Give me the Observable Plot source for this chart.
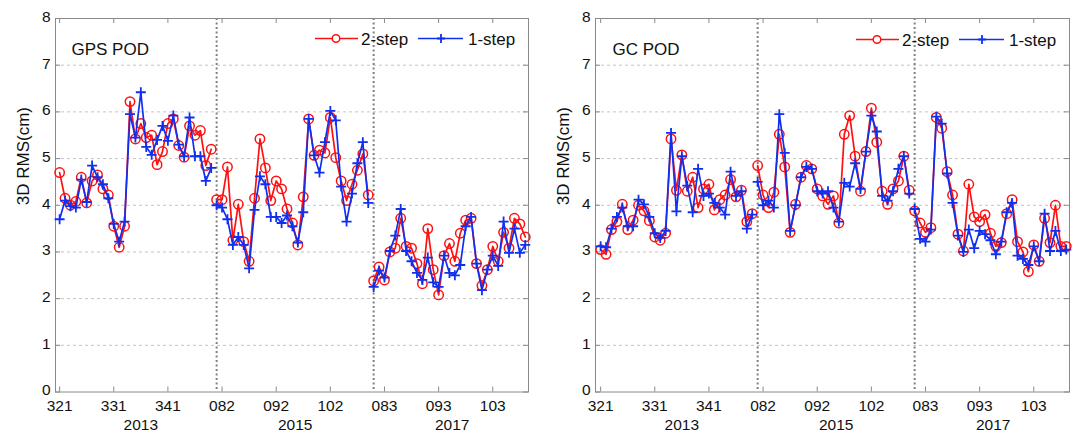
<!DOCTYPE html>
<html><head><meta charset="utf-8">
<script src="https://cdn.jsdelivr.net/npm/d3@7"></script>
<script src="https://cdn.jsdelivr.net/npm/@observablehq/plot@0.6"></script>
<style>
body{margin:0;background:#fff;}
#wrap{position:relative;width:1077px;height:435px;overflow:hidden;background:#fff;}
#wrap > div{position:absolute;top:0;}
</style></head><body>
<div id="wrap"><div id="p1" style="left:0"></div><div id="p2" style="left:538px"></div></div>
<script>
// ---- data ----
const tickIndex = [0, 10, 20, 30, 40, 50, 60, 70, 80];
const tickLabels = ["321", "331", "341", "082", "092", "102", "083", "093", "103"];
const years = ["2013", "2015", "2017"];
const yearCenters = [15, 43.5, 72.5];
const separators = [29, 58];
const segmentStarts = [0, 29, 58];
const yTicks = [0, 1, 2, 3, 4, 5, 6, 7, 8];
const gridValues = [1, 2, 3, 4, 5, 6, 7];

const gpsTwoStep = [4.7,4.15,4.0,4.08,4.6,4.05,4.52,4.65,4.35,4.22,3.55,3.1,3.55,6.22,5.42,5.75,5.45,5.5,4.87,5.15,5.75,5.85,5.28,5.03,5.7,5.5,5.6,4.85,5.2,
  4.12,4.12,4.82,3.25,4.02,3.22,2.8,4.15,5.42,4.8,4.1,4.52,4.35,3.92,3.62,3.15,4.18,5.85,5.07,5.18,5.12,5.88,5.02,4.52,4.1,4.45,4.75,5.1,4.22,
  2.38,2.68,2.4,3.0,3.08,3.72,3.12,3.08,2.75,2.32,3.5,2.62,2.08,2.92,3.18,2.8,3.4,3.68,3.72,2.75,2.28,2.62,3.12,2.8,3.42,3.08,3.72,3.6,3.32];
const gpsOneStep = [3.7,4.1,3.98,3.95,4.55,4.07,4.85,4.6,4.45,4.15,3.6,3.22,3.65,5.95,5.45,6.42,5.25,5.08,5.4,5.7,5.38,5.92,5.3,5.05,5.88,5.05,5.05,4.52,4.8,
  4.0,3.95,3.7,3.15,3.32,3.15,2.65,3.9,4.62,4.45,3.75,3.75,3.62,3.78,3.55,3.2,3.85,5.85,5.07,4.7,5.35,6.02,5.82,4.4,3.65,4.25,4.9,5.35,4.05,
  2.25,2.6,2.45,3.02,3.35,3.92,3.02,2.8,2.55,2.4,2.88,2.35,2.25,2.92,2.55,2.5,2.72,3.55,3.75,2.75,2.18,2.62,2.92,2.7,3.65,2.98,3.5,2.98,3.15];
const gcTwoStep = [3.05,2.95,3.48,3.65,4.02,3.48,3.68,4.0,3.88,3.67,3.32,3.25,3.4,5.42,4.32,5.08,4.3,4.6,3.95,4.35,4.45,3.9,4.12,4.22,4.55,4.18,4.32,3.65,3.82,
  4.85,4.22,3.95,4.28,5.52,4.82,3.42,4.02,4.6,4.85,4.78,4.35,4.2,4.02,4.2,3.62,5.52,5.92,5.05,4.3,5.15,6.08,5.35,4.3,4.02,4.35,4.52,5.05,4.32,
  3.88,3.62,3.42,3.52,5.88,5.65,4.72,4.22,3.38,3.02,4.45,3.75,3.65,3.8,3.4,3.12,3.2,3.82,4.12,3.22,3.0,2.58,3.15,2.8,3.72,3.2,4.0,3.12,3.12];
const gcOneStep = [3.12,3.1,3.5,3.75,3.95,3.55,3.55,4.12,4.02,3.75,3.4,3.3,3.45,5.55,3.87,5.05,4.42,3.85,4.78,4.2,4.25,4.05,3.95,3.8,4.72,4.2,4.3,3.5,3.8,
  4.5,4.0,4.1,3.95,5.95,5.12,3.45,4.0,4.6,4.82,4.78,4.3,4.25,4.3,3.95,3.65,4.48,4.4,4.9,4.35,5.15,5.92,5.58,4.2,4.1,4.3,4.78,5.05,4.25,
  3.92,3.28,3.22,3.48,5.9,5.75,4.68,4.05,3.35,3.0,3.48,3.08,3.45,3.38,3.25,2.95,3.22,3.85,4.05,2.92,2.85,2.72,3.12,2.8,3.82,3.02,3.45,3.02,3.05];

// ---- drawing ----
const RED = "#ff1010", BLUE = "#1030f0", AXIS = "#8a8a8a";
const FONT = "'Liberation Sans', Arial, Helvetica, sans-serif";
const plusSym = {draw(ctx, size) { const r = Math.sqrt(size / Math.PI); ctx.moveTo(-r, 0); ctx.lineTo(r, 0); ctx.moveTo(0, -r); ctx.lineTo(0, r); }};

function rows(series) {
  return series.map((v, i) => ({i, v, seg: segmentStarts.filter(s => i >= s).length}));
}

function panel({title, two, one, width, marginLeft, marginRight, xDomain, titleDx, legendX, legendY}) {
  const marginTop = 18, marginBottom = 43.5, height = 435;
  const innerH = height - marginTop - marginBottom;
  const innerW = width - marginLeft - marginRight;
  const svg = Plot.plot({
    width, height, marginLeft, marginRight, marginTop, marginBottom,
    style: {fontFamily: FONT, fontSize: "16px", color: "#111", background: "white", overflow: "visible"},
    x: {domain: xDomain, axis: null},
    y: {domain: [0, 8], axis: null},
    marks: [
      Plot.ruleY(gridValues, {stroke: "#c4c4c4", strokeDasharray: "3,3"}),
      Plot.ruleX(separators, {stroke: "#808080", strokeWidth: 2, strokeDasharray: "2,2.5"}),
      Plot.tickX(tickIndex, {x: d => d, stroke: AXIS, insetTop: innerH - 5}),
      Plot.tickX(tickIndex, {x: d => d, stroke: AXIS, insetBottom: innerH - 5}),
      Plot.tickY(yTicks, {y: d => d, stroke: AXIS, insetRight: innerW - 5}),
      Plot.tickY(yTicks, {y: d => d, stroke: AXIS, insetLeft: innerW - 5}),
      Plot.frame({stroke: AXIS}),
      Plot.axisX({ticks: tickIndex, tickSize: 0, tickPadding: 7.5, label: null, tickFormat: d => tickLabels[tickIndex.indexOf(d)], fontSize: 15.5}),
      Plot.axisY({ticks: yTicks, tickSize: 0, tickPadding: 5, dy: -1.5, label: null, tickFormat: d => String(d), fontSize: 15.5}),
      Plot.text(years, {x: (d, k) => yearCenters[k], text: d => d, frameAnchor: "bottom", dy: 37.5, fontSize: 15.5}),
      Plot.text(["3D RMS(cm)"], {frameAnchor: "left", dx: -32, rotate: -90, fontSize: 17}),
      Plot.text([title], {frameAnchor: "top-left", dx: titleDx, dy: 24.5, textAnchor: "start", fontSize: 17}),
      Plot.line(rows(two), {x: "i", y: "v", z: "seg", stroke: RED, strokeWidth: 1.7}),
      Plot.dot(rows(two), {x: "i", y: "v", r: 4.7, stroke: RED, fill: "none", strokeWidth: 1.5}),
      Plot.line(rows(one), {x: "i", y: "v", z: "seg", stroke: BLUE, strokeWidth: 1.7}),
      Plot.dot(rows(one), {x: "i", y: "v", r: 5, symbol: plusSym, stroke: BLUE, fill: "none", strokeWidth: 1.8})
    ]
  });
  // legend
  const g = d3.select(svg).append("g")
    .style("font-family", FONT).style("font-size", "17px").attr("fill", "#111").attr("text-anchor", "start");
  const x0 = legendX, y0 = legendY;
  g.append("line").attr("x1", x0).attr("x2", x0 + 43).attr("y1", y0).attr("y2", y0).attr("stroke", RED).attr("stroke-width", 1.7);
  g.append("circle").attr("cx", x0 + 21).attr("cy", y0).attr("r", 3.8).attr("fill", "white").attr("stroke", RED).attr("stroke-width", 1.5);
  g.append("text").attr("x", x0 + 46).attr("y", y0 + 6).attr("text-anchor", "start").text("2-step");
  g.append("line").attr("x1", x0 + 103).attr("x2", x0 + 148).attr("y1", y0).attr("y2", y0).attr("stroke", BLUE).attr("stroke-width", 1.7);
  g.append("path").attr("d", `M${x0 + 122},${y0}h8M${x0 + 126},${y0 - 4.5}v9`).attr("stroke", BLUE).attr("stroke-width", 1.8);
  g.append("text").attr("x", x0 + 153).attr("y", y0 + 6).attr("text-anchor", "start").text("1-step");
  return svg;
}

document.getElementById("p1").append(panel({
  title: "GPS POD", two: gpsTwoStep, one: gpsOneStep,
  width: 538, marginLeft: 55, marginRight: 10, xDomain: [-0.76, 86.6], titleDx: 16, legendX: 315, legendY: 38.5
}));
document.getElementById("p2").append(panel({
  title: "GC POD", two: gcTwoStep, one: gcOneStep,
  width: 539, marginLeft: 57, marginRight: 8, xDomain: [-0.95, 86.6], titleDx: 17, legendX: 318, legendY: 39.5
}));
</script>
</body></html>
